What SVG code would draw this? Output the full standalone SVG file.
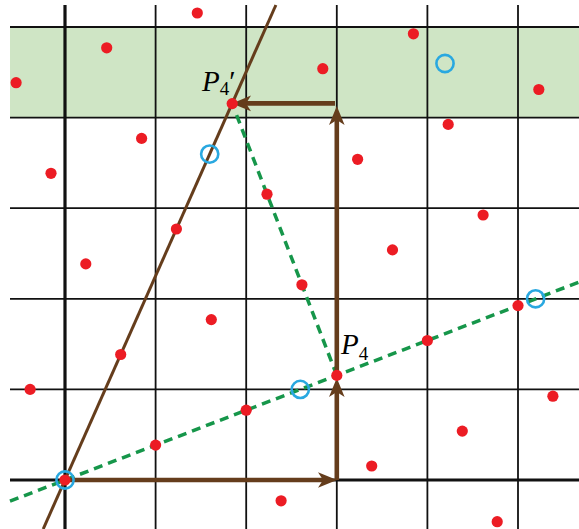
<svg xmlns="http://www.w3.org/2000/svg" width="579" height="529" viewBox="0 0 579 529">
<style>
.grid{stroke:#111;stroke-width:1.8;fill:none}
.axis{stroke:#111;stroke-width:3.2;fill:none}
.dash{stroke:#16964a;stroke-width:3.5;stroke-dasharray:9 6;fill:none}
.slant{stroke:#653d1c;stroke-width:3;fill:none}
.arrow{stroke:#653d1c;stroke-width:4.6;fill:none;marker-end:url(#ah)}
.dot{fill:#ec1c24}
.ring{fill:none;stroke:#29a8e0;stroke-width:2.6}
.lbl{font-family:"Liberation Serif","Times New Roman",serif;fill:#000}
</style>
<defs>
<marker id="ah" markerUnits="userSpaceOnUse" viewBox="-12 -10 24 20" markerWidth="24" markerHeight="20" refX="0" refY="0" orient="auto">
<path d="M10 0 L-9 -7.8 L-4 0 L-9 7.8 Z" fill="#653d1c"/>
</marker>
</defs>
<rect id="band" x="10" y="27" width="569" height="90.6" fill="#cfe5c5"/>
<g id="grid">
<line class="grid" x1="155.6" y1="5" x2="155.6" y2="529"/>
<line class="grid" x1="246.2" y1="5" x2="246.2" y2="529"/>
<line class="grid" x1="336.8" y1="5" x2="336.8" y2="529"/>
<line class="grid" x1="427.4" y1="5" x2="427.4" y2="529"/>
<line class="grid" x1="518" y1="5" x2="518" y2="529"/>
<line class="grid" x1="10" y1="27" x2="579" y2="27"/>
<line class="grid" x1="10" y1="117.6" x2="579" y2="117.6"/>
<line class="grid" x1="10" y1="208.2" x2="579" y2="208.2"/>
<line class="grid" x1="10" y1="298.8" x2="579" y2="298.8"/>
<line class="grid" x1="10" y1="389.4" x2="579" y2="389.4"/>
<line class="axis" x1="65" y1="5" x2="65" y2="529"/>
<line class="axis" x1="10" y1="480" x2="579" y2="480"/>
</g>
<g id="connectors">
<line class="dash" x1="10" y1="501.2" x2="579" y2="282.1"/>
<line class="dash" x1="336.8" y1="375.4" x2="236.2" y2="114"/>
<line class="slant" x1="43.2" y1="529" x2="275.9" y2="5"/>
<line class="arrow" x1="65" y1="480" x2="327" y2="480"/>
<line class="arrow" x1="336.8" y1="480" x2="336.8" y2="388"/>
<line class="arrow" x1="336.8" y1="375.4" x2="336.8" y2="116"/>
<line class="arrow" x1="335" y1="103.4" x2="242" y2="103.4"/>
</g>
<g id="points">
<circle class="dot" cx="497.2" cy="521.7" r="5.6"/>
<circle class="dot" cx="281.1" cy="500.8" r="5.6"/>
<circle class="dot" cx="371.7" cy="466" r="5.6"/>
<circle class="dot" cx="462.3" cy="431.1" r="5.6"/>
<circle class="dot" cx="552.9" cy="396.2" r="5.6"/>
<circle class="dot" cx="65" cy="480" r="5.6"/>
<circle class="dot" cx="155.6" cy="445.1" r="5.6"/>
<circle class="dot" cx="246.2" cy="410.2" r="5.6"/>
<circle class="dot" cx="336.8" cy="375.4" r="5.6"/>
<circle class="dot" cx="427.4" cy="340.5" r="5.6"/>
<circle class="dot" cx="518" cy="305.6" r="5.6"/>
<circle class="dot" cx="30.1" cy="389.4" r="5.6"/>
<circle class="dot" cx="120.7" cy="354.5" r="5.6"/>
<circle class="dot" cx="211.3" cy="319.6" r="5.6"/>
<circle class="dot" cx="301.9" cy="284.8" r="5.6"/>
<circle class="dot" cx="392.5" cy="249.9" r="5.6"/>
<circle class="dot" cx="483.1" cy="215" r="5.6"/>
<circle class="dot" cx="85.8" cy="263.9" r="5.6"/>
<circle class="dot" cx="176.4" cy="229" r="5.6"/>
<circle class="dot" cx="267" cy="194.2" r="5.6"/>
<circle class="dot" cx="357.6" cy="159.3" r="5.6"/>
<circle class="dot" cx="448.2" cy="124.4" r="5.6"/>
<circle class="dot" cx="538.8" cy="89.5" r="5.6"/>
<circle class="dot" cx="51" cy="173.3" r="5.6"/>
<circle class="dot" cx="141.6" cy="138.4" r="5.6"/>
<circle class="dot" cx="232.2" cy="103.6" r="5.6"/>
<circle class="dot" cx="322.8" cy="68.7" r="5.6"/>
<circle class="dot" cx="413.4" cy="33.8" r="5.6"/>
<circle class="dot" cx="16.1" cy="82.7" r="5.6"/>
<circle class="dot" cx="106.7" cy="47.8" r="5.6"/>
<circle class="dot" cx="197.3" cy="13" r="5.6"/>
</g>
<g id="rings">
<circle class="ring" cx="65" cy="480" r="8.6"/>
<circle class="ring" cx="300.3" cy="389.4" r="8.6"/>
<circle class="ring" cx="535.6" cy="298.8" r="8.6"/>
<circle class="ring" cx="209.7" cy="154.1" r="8.6"/>
<circle class="ring" cx="445" cy="63.5" r="8.6"/>
</g>
<g id="label-P4prime">
<text class="lbl" x="202" y="91" font-size="29"><tspan font-style="italic">P</tspan><tspan font-size="19" dy="4">4</tspan><tspan dy="-4">′</tspan></text>
</g>
<g id="label-P4">
<text class="lbl" x="341" y="354" font-size="29"><tspan font-style="italic">P</tspan><tspan font-size="19" dy="6">4</tspan></text>
</g>
</svg>
